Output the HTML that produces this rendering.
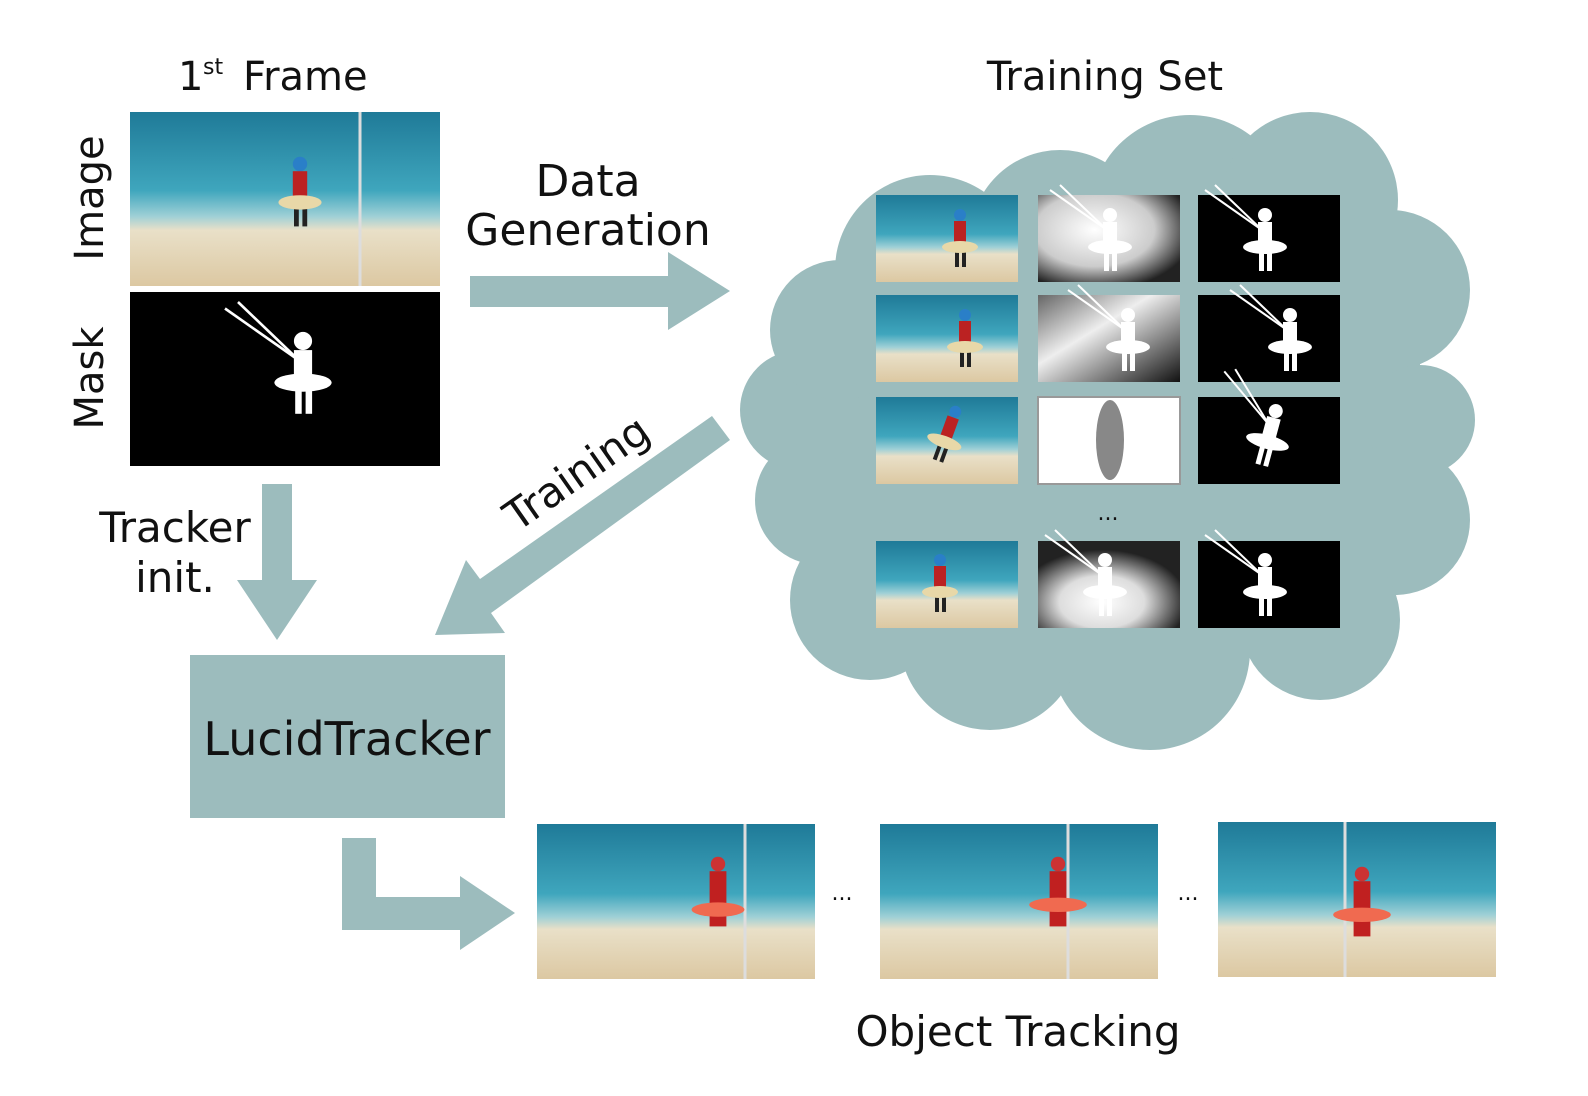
<!DOCTYPE html>
<html><head><meta charset="utf-8"><style>
body{margin:0;background:#fff;}
svg{display:block;}
text{font-family:"DejaVu Sans","Liberation Sans",sans-serif;fill:#111;}
</style></head><body>
<svg width="1588" height="1096" viewBox="0 0 1588 1096" xmlns="http://www.w3.org/2000/svg">
<defs>
<linearGradient id="beach" x1="0" y1="0" x2="0" y2="1">
<stop offset="0" stop-color="#1f7a98"/><stop offset="0.45" stop-color="#3fa6bd"/><stop offset="0.6" stop-color="#9fd0d6"/><stop offset="0.68" stop-color="#e9e0c8"/><stop offset="1" stop-color="#dcc8a2"/>
</linearGradient>
<radialGradient id="gmask1" cx="0.4" cy="0.4" r="0.7"><stop offset="0" stop-color="#fff"/><stop offset="0.6" stop-color="#ccc"/><stop offset="1" stop-color="#222"/></radialGradient>
<linearGradient id="gmask2" x1="0" y1="0" x2="1" y2="1"><stop offset="0" stop-color="#666"/><stop offset="0.4" stop-color="#eee"/><stop offset="1" stop-color="#111"/></linearGradient>
<radialGradient id="gmask3" cx="0.45" cy="0.7" r="0.6"><stop offset="0" stop-color="#fff"/><stop offset="0.5" stop-color="#ddd"/><stop offset="1" stop-color="#222"/></radialGradient>
<g id="person"><circle cx="0" cy="-30" r="6" fill="#2a7fc8"/><rect x="-6" y="-24" width="12" height="22" fill="#b22"/><rect x="-5" y="-2" width="4" height="24" fill="#222"/><rect x="2" y="-2" width="4" height="24" fill="#222"/><ellipse cx="0" cy="2" rx="18" ry="6" fill="#e8d8a8"/></g>
<g id="sil"><circle cx="0" cy="-30" r="7" fill="#fff"/><rect x="-7" y="-23" width="14" height="24" fill="#fff"/><rect x="-6" y="0" width="5" height="26" fill="#fff"/><rect x="2" y="0" width="5" height="26" fill="#fff"/><ellipse cx="0" cy="2" rx="22" ry="7" fill="#fff"/><line x1="-3" y1="-15" x2="-50" y2="-60" stroke="#fff" stroke-width="2"/><line x1="-3" y1="-15" x2="-60" y2="-55" stroke="#fff" stroke-width="2"/></g>
</defs>

<text x="178" y="90" font-size="40">1</text><text x="203" y="74" font-size="22">st</text><text x="243" y="90" font-size="40">Frame</text>
<text x="1105" y="90" font-size="40" text-anchor="middle">Training Set</text>
<text transform="translate(103,198) rotate(-90)" font-size="40" text-anchor="middle">Image</text>
<text transform="translate(103,378) rotate(-90)" font-size="40" text-anchor="middle">Mask</text>

<rect x="130" y="112" width="310" height="174" fill="url(#beach)"/>
<line x1="360" y1="112" x2="360" y2="286" stroke="#ddd" stroke-width="3"/>
<use href="#person" transform="translate(300,200) scale(1.2)"/>
<rect x="130" y="292" width="310" height="174" fill="#000"/>
<use href="#sil" transform="translate(303,380) scale(1.3)"/>

<polygon points="470,276 668,276 668,252 730,291 668,330 668,307 470,307" fill="#9cbcbd"/>
<text x="588" y="196" font-size="44" text-anchor="middle">Data</text>
<text x="588" y="245" font-size="44" text-anchor="middle">Generation</text>

<g fill="#9cbcbd">
<rect x="860" y="250" width="520" height="400"/>
<rect x="800" y="360" width="80" height="200"/>
<rect x="1340" y="300" width="80" height="250"/>
<circle cx="930" cy="270" r="95"/>
<circle cx="1060" cy="240" r="90"/>
<circle cx="1190" cy="215" r="100"/>
<circle cx="1310" cy="200" r="88"/>
<circle cx="1390" cy="290" r="80"/>
<circle cx="1420" cy="420" r="55"/>
<circle cx="1395" cy="520" r="75"/>
<circle cx="1320" cy="620" r="80"/>
<circle cx="1150" cy="650" r="100"/>
<circle cx="990" cy="640" r="90"/>
<circle cx="870" cy="600" r="80"/>
<circle cx="820" cy="500" r="65"/>
<circle cx="800" cy="410" r="60"/>
<circle cx="840" cy="330" r="70"/>
</g>

<g>
<rect x="876" y="195" width="142" height="87" fill="url(#beach)"/><use href="#person" transform="translate(960,245)"/>
<rect x="1038" y="195" width="142" height="87" fill="url(#gmask1)"/><use href="#sil" transform="translate(1110,245)"/>
<rect x="1198" y="195" width="142" height="87" fill="#000"/><use href="#sil" transform="translate(1265,245)"/>
<rect x="876" y="295" width="142" height="87" fill="url(#beach)"/><use href="#person" transform="translate(965,345)"/>
<rect x="1038" y="295" width="142" height="87" fill="url(#gmask2)"/><use href="#sil" transform="translate(1128,345)"/>
<rect x="1198" y="295" width="142" height="87" fill="#000"/><use href="#sil" transform="translate(1290,345)"/>
<rect x="876" y="397" width="142" height="87" fill="url(#beach)"/><use href="#person" transform="translate(945,440) rotate(20)"/>
<rect x="1038" y="397" width="142" height="87" fill="#fff" stroke="#999" stroke-width="2"/><ellipse cx="1110" cy="440" rx="14" ry="40" fill="#888"/>
<rect x="1198" y="397" width="142" height="87" fill="#000"/><use href="#sil" transform="translate(1268,440) rotate(15)"/>
<text x="1108" y="520" font-size="22" text-anchor="middle">...</text>
<rect x="876" y="541" width="142" height="87" fill="url(#beach)"/><use href="#person" transform="translate(940,590)"/>
<rect x="1038" y="541" width="142" height="87" fill="url(#gmask3)"/><use href="#sil" transform="translate(1105,590)"/>
<rect x="1198" y="541" width="142" height="87" fill="#000"/><use href="#sil" transform="translate(1265,590)"/>
</g>

<polygon points="730,440 712,416 480,579 466,560 435,635 505,633 491,613" fill="#9cbcbd"/>
<text transform="translate(585,485) rotate(-35)" font-size="42" text-anchor="middle">Training</text>

<polygon points="262,484 292,484 292,580 317,580 277,640 237,580 262,580" fill="#9cbcbd"/>
<text x="175" y="542" font-size="42" text-anchor="middle">Tracker</text>
<text x="175" y="592" font-size="42" text-anchor="middle">init.</text>

<rect x="190" y="655" width="315" height="163" fill="#9cbcbd"/>
<text x="347" y="755" font-size="46" text-anchor="middle">LucidTracker</text>

<polygon points="342,838 376,838 376,897 460,897 460,876 515,913 460,950 460,930 342,930" fill="#9cbcbd"/>

<rect x="537" y="824" width="278" height="155" fill="url(#beach)"/>
<line x1="745" y1="824" x2="745" y2="979" stroke="#ddd" stroke-width="3"/>
<g transform="translate(718,900) scale(1.2)"><circle cx="0" cy="-30" r="6" fill="#c33"/><rect x="-7" y="-24" width="14" height="46" fill="#c02020"/><ellipse cx="0" cy="8" rx="22" ry="6" fill="#f06a50"/></g>
<text x="842" y="900" font-size="22" text-anchor="middle">...</text>
<rect x="880" y="824" width="278" height="155" fill="url(#beach)"/>
<line x1="1068" y1="824" x2="1068" y2="979" stroke="#ddd" stroke-width="3"/>
<g transform="translate(1058,900) scale(1.2)"><circle cx="0" cy="-30" r="6" fill="#c33"/><rect x="-7" y="-24" width="14" height="46" fill="#c02020"/><ellipse cx="0" cy="4" rx="24" ry="6" fill="#f06a50"/></g>
<text x="1188" y="900" font-size="22" text-anchor="middle">...</text>
<rect x="1218" y="822" width="278" height="155" fill="url(#beach)"/>
<line x1="1345" y1="822" x2="1345" y2="977" stroke="#ddd" stroke-width="3"/>
<g transform="translate(1362,910) scale(1.2)"><circle cx="0" cy="-30" r="6" fill="#c33"/><rect x="-7" y="-24" width="14" height="46" fill="#c02020"/><ellipse cx="0" cy="4" rx="24" ry="6" fill="#f06a50"/></g>
<text x="1018" y="1046" font-size="42" text-anchor="middle">Object Tracking</text>
</svg>
</body></html>
